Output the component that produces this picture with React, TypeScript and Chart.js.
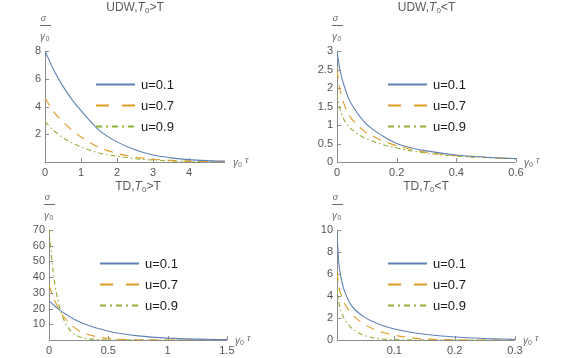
import React, { useEffect, useRef } from "react";
import { Chart, registerables } from "chart.js";
Chart.register(...registerables);

// ---------- data ----------
const seriesLabels = ["u=0.1", "u=0.7", "u=0.9"];

// UDW, T0 > T
const udwHiX = [0, 0.25, 0.5, 0.75, 1, 1.5, 2, 2.5, 3, 3.5, 4, 4.5, 5];
const udwHiU01 = [8, 6.6, 5.45, 4.5, 3.7, 2.3, 1.45, 0.88, 0.5, 0.3, 0.17, 0.1, 0.06];
const udwHiU07 = [4.6, 3.6, 2.9, 2.3, 1.8, 1.05, 0.62, 0.35, 0.2, 0.12, 0.07, 0.04, 0.02];
const udwHiU09 = [2.9, 2.25, 1.75, 1.38, 1.08, 0.65, 0.42, 0.24, 0.14, 0.07, 0.04, 0.02, 0.01];
const udwHiXTicks = [0, 1, 2, 3, 4];
const udwHiYTicks = [2, 4, 6, 8];

// UDW, T0 < T
const udwLoX = [0, 0.005, 0.01, 0.02, 0.04, 0.06, 0.09, 0.12, 0.15, 0.2, 0.25, 0.3, 0.4, 0.5, 0.6];
const udwLoU01 = [3.0, 2.72, 2.48, 2.16, 1.7, 1.42, 1.1, 0.88, 0.72, 0.5, 0.38, 0.3, 0.19, 0.13, 0.09];
const udwLoU07 = [2.5, 2.2, 1.95, 1.65, 1.27, 1.07, 0.84, 0.7, 0.58, 0.44, 0.34, 0.26, 0.17, 0.12, 0.09];
const udwLoU09 = [1.85, 1.6, 1.45, 1.2, 0.95, 0.82, 0.66, 0.56, 0.48, 0.38, 0.3, 0.24, 0.16, 0.12, 0.09];
const udwLoXTicks = [0, 0.2, 0.4, 0.6];
const udwLoYTicks = [0, 0.5, 1, 1.5, 2, 2.5, 3];

// TD, T0 > T
const tdHiX = [0, 0.025, 0.05, 0.075, 0.1, 0.15, 0.2, 0.25, 0.3, 0.4, 0.5, 0.6, 0.75, 1, 1.25, 1.5];
const tdHiU01 = [25, 23.2, 21.5, 20, 18.5, 16, 13.7, 11.8, 10.2, 7.6, 5.6, 4.1, 2.6, 1.2, 0.55, 0.25];
const tdHiU07 = [35, 29.5, 24.8, 20.8, 17.5, 12.4, 8.7, 6.1, 4.3, 2.1, 1.05, 0.5, 0.15, 0.02, 0, 0];
const tdHiU09 = [70, 50, 35.5, 25.2, 18, 9.1, 4.6, 2.3, 1.2, 0.3, 0.08, 0.02, 0, 0, 0, 0];
const tdHiXTicks = [0, 0.5, 1, 1.5];
const tdHiYTicks = [10, 20, 30, 40, 50, 60, 70];

// TD, T0 < T
const tdLoX = [0.005, 0.008, 0.012, 0.016, 0.02, 0.027, 0.035, 0.05, 0.065, 0.08, 0.1, 0.125, 0.15, 0.2, 0.25, 0.3];
const tdLoU01 = [9.8, 7.0, 5.6, 4.7, 4.1, 3.3, 2.75, 2.1, 1.65, 1.32, 1.0, 0.72, 0.52, 0.27, 0.14, 0.07];
const tdLoU07 = [6.2, 4.9, 4.1, 3.5, 3.1, 2.5, 2.05, 1.45, 1.0, 0.7, 0.43, 0.22, 0.1, 0.02, 0, 0];
const tdLoU09 = [4.6, 3.4, 2.6, 2.05, 1.7, 1.2, 0.85, 0.42, 0.2, 0.09, 0.03, 0.01, 0, 0, 0, 0];
const tdLoXTicks = [0.1, 0.2, 0.3];
const tdLoYTicks = [0, 2, 4, 6, 8, 10];

// ---------- styles ----------
const colors = ["#5E81B5", "#E19C24", "#8FB032"];
const curveDash: number[][] = [[], [9, 7], [5, 3, 1.5, 3]];
const legendDash: number[][] = [[], [13, 13], [6, 4, 2, 4]];
const FONT = "'Liberation Sans', Arial, sans-serif";

type Panel = {
  left: number; top: number;
  head: string; rel: string;
  xs: number[]; ys: number[][];
  xMin: number; xMax: number; yMin: number; yMax: number;
  xTicks: number[]; yTicks: number[];
  padTop: number; padRight: number; yWidth: number; xHeight: number;
};

const panels: Panel[] = [
  { left: 0, top: 0, head: "UDW,", rel: ">T", xs: udwHiX, ys: [udwHiU01, udwHiU07, udwHiU09],
    xMin: 0, xMax: 5, yMin: 0, yMax: 8, xTicks: udwHiXTicks, yTicks: udwHiYTicks,
    padTop: 51, padRight: 63, yWidth: 45, xHeight: 17 },
  { left: 288, top: 0, head: "UDW,", rel: "<T", xs: udwLoX, ys: [udwLoU01, udwLoU07, udwLoU09],
    xMin: 0, xMax: 0.6, yMin: 0, yMax: 3, xTicks: udwLoXTicks, yTicks: udwLoYTicks,
    padTop: 51, padRight: 60, yWidth: 49, xHeight: 17 },
  { left: 0, top: 179, head: "TD,", rel: ">T", xs: tdHiX, ys: [tdHiU01, tdHiU07, tdHiU09],
    xMin: 0, xMax: 1.5, yMin: 0, yMax: 70, xTicks: tdHiXTicks, yTicks: tdHiYTicks,
    padTop: 51, padRight: 61, yWidth: 49, xHeight: 18 },
  { left: 288, top: 179, head: "TD,", rel: "<T", xs: tdLoX, ys: [tdLoU01, tdLoU07, tdLoU09],
    xMin: 0.005, xMax: 0.3, yMin: 0, yMax: 10, xTicks: tdLoXTicks, yTicks: tdLoYTicks,
    padTop: 51, padRight: 61, yWidth: 49, xHeight: 18 },
];

const fmt = (v: number) => String(Number(Number(v).toFixed(3)));

function makeDeco(p: Panel) {
  return {
    id: "deco",
    beforeDatasetsDraw(chart: any) {
      const { ctx, chartArea: a, scales } = chart;
      ctx.save();
      ctx.strokeStyle = "#8c8c8c";
      ctx.lineWidth = 1;
      ctx.setLineDash([]);
      ctx.beginPath();
      ctx.moveTo(a.left, a.bottom + 0.5);
      ctx.lineTo(a.right, a.bottom + 0.5);
      ctx.moveTo(a.left + 0.5, a.bottom);
      ctx.lineTo(a.left + 0.5, a.top);
      p.xTicks.forEach((v) => {
        const x = Math.round(scales.x.getPixelForValue(v)) + 0.5;
        ctx.moveTo(x, a.bottom);
        ctx.lineTo(x, a.bottom - 4);
      });
      p.yTicks.forEach((v) => {
        const y = Math.round(scales.y.getPixelForValue(v)) + 0.5;
        ctx.moveTo(a.left, y);
        ctx.lineTo(a.left + 4, y);
      });
      ctx.stroke();
      ctx.restore();
    },
    afterDraw(chart: any) {
      const { ctx, chartArea: a } = chart;
      ctx.save();
      // title
      const segs = [
        { t: p.head, f: `12px ${FONT}`, dy: 0 },
        { t: "T", f: `italic 12px ${FONT}`, dy: 0 },
        { t: "0", f: `8px ${FONT}`, dy: 3 },
        { t: p.rel, f: `12px ${FONT}`, dy: 0 },
      ];
      let w = 0;
      segs.forEach((s) => { ctx.font = s.f; w += ctx.measureText(s.t).width; });
      let x = (a.left + a.right) / 2 - w / 2;
      const ty = a.top - 43;
      ctx.fillStyle = "#5a5a5a";
      ctx.textBaseline = "middle";
      ctx.textAlign = "left";
      segs.forEach((s) => {
        ctx.font = s.f;
        ctx.fillText(s.t, x, ty + s.dy);
        x += ctx.measureText(s.t).width;
      });
      // y-axis label: sigma / gamma0
      ctx.fillStyle = "#6a6a6a";
      ctx.textAlign = "center";
      ctx.font = `italic 9px ${FONT}`;
      ctx.fillText("σ", a.left - 1.5, a.top - 33);
      ctx.strokeStyle = "#6a6a6a";
      ctx.lineWidth = 1;
      ctx.beginPath();
      ctx.moveTo(a.left - 5, a.top - 25.5);
      ctx.lineTo(a.left + 6, a.top - 25.5);
      ctx.stroke();
      ctx.textAlign = "left";
      ctx.font = `italic 10px ${FONT}`;
      ctx.fillText("γ", a.left - 5, a.top - 14);
      ctx.font = `7px ${FONT}`;
      ctx.fillText("0", a.left + 0.5, a.top - 11.5);
      // x-axis label: gamma0 tau
      const lx = a.right + 8;
      ctx.font = `italic 10px ${FONT}`;
      ctx.fillText("γ", lx, a.bottom + 1);
      ctx.font = `7px ${FONT}`;
      ctx.fillText("0", lx + 5, a.bottom + 3.5);
      ctx.font = `italic 9px ${FONT}`;
      ctx.fillText("τ", lx + 12, a.bottom - 1.5);
      // legend
      seriesLabels.forEach((lab, i) => {
        const y = a.top + 33 + i * 21;
        ctx.strokeStyle = colors[i];
        ctx.lineWidth = 2;
        ctx.setLineDash(legendDash[i]);
        ctx.beginPath();
        ctx.moveTo(a.left + 51, y + 0.5);
        ctx.lineTo(a.left + 90, y + 0.5);
        ctx.stroke();
        ctx.setLineDash([]);
        ctx.fillStyle = "#1a1a1a";
        ctx.font = `13px ${FONT}`;
        ctx.textAlign = "left";
        ctx.fillText(lab, a.left + 96, y + 1);
      });
      ctx.restore();
    },
  };
}

function PanelChart({ p }: { p: Panel }) {
  const ref = useRef<HTMLCanvasElement | null>(null);
  useEffect(() => {
    if (!ref.current) return;
    const chart = new Chart(ref.current, {
      type: "line",
      data: {
        datasets: p.ys.map((ys, i) => ({
          label: seriesLabels[i],
          data: p.xs.map((x, j) => ({ x, y: ys[j] })),
          borderColor: colors[i],
          borderWidth: 1.1,
          borderDash: curveDash[i],
          pointRadius: 0,
          fill: false,
          cubicInterpolationMode: "monotone" as const,
        })),
      },
      options: {
        responsive: false,
        maintainAspectRatio: false,
        animation: false,
        layout: { padding: { left: 0, top: p.padTop, right: p.padRight, bottom: 0 } },
        plugins: { legend: { display: false }, tooltip: { enabled: false }, title: { display: false } },
        scales: {
          x: {
            type: "linear",
            min: p.xMin,
            max: p.xMax,
            grid: { display: false, drawTicks: false },
            border: { display: false },
            afterBuildTicks: (s: any) => { s.ticks = p.xTicks.map((v) => ({ value: v })); },
            afterFit: (s: any) => { s.height = p.xHeight; },
            ticks: {
              color: "#555", font: { family: FONT, size: 11 }, padding: 4,
              maxRotation: 0, autoSkip: false, callback: (v: any) => fmt(v),
            },
          },
          y: {
            type: "linear",
            min: p.yMin,
            max: p.yMax,
            grid: { display: false, drawTicks: false },
            border: { display: false },
            afterBuildTicks: (s: any) => { s.ticks = p.yTicks.map((v) => ({ value: v })); },
            afterFit: (s: any) => { s.width = p.yWidth; },
            ticks: {
              color: "#555", font: { family: FONT, size: 11 }, padding: 4,
              autoSkip: false, callback: (v: any) => fmt(v),
            },
          },
        },
      },
      plugins: [makeDeco(p)],
    } as any);
    return () => chart.destroy();
  }, [p]);
  return (
    <canvas
      ref={ref}
      width={288}
      height={179}
      style={{ position: "absolute", left: p.left, top: p.top, width: 288, height: 179 }}
    />
  );
}

export default function App() {
  return (
    <div style={{ position: "absolute", left: 0, top: 0, width: 576, height: 358, background: "#fff" }}>
      {panels.map((p, i) => (
        <PanelChart key={i} p={p} />
      ))}
    </div>
  );
}
